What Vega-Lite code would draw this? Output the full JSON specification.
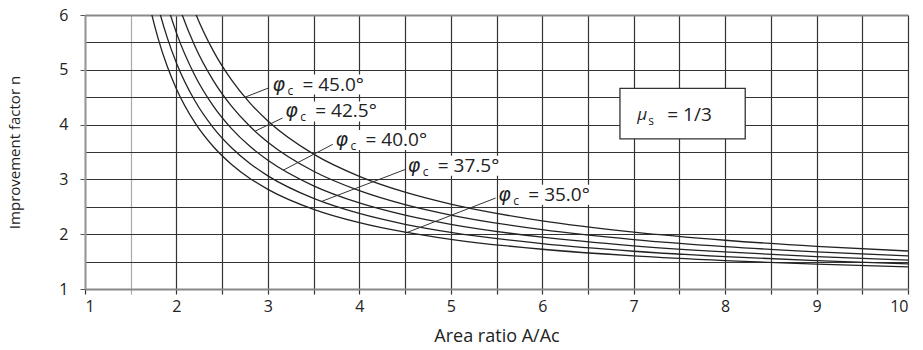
{
  "$schema": "https://vega.github.io/schema/vega-lite/v6.json",
  "width": 823,
  "height": 274,
  "autosize": "none",
  "padding": {"left": 85, "top": 15, "right": 15, "bottom": 61},
  "background": "white",
  "config": {
    "view": {"stroke": null},
    "font": "Open Sans",
    "text": {"font": "Open Sans", "color": "#222"}
  },
  "datasets": {
    "curves": [
      {"phi": "35.0", "x": 1.6, "y": 7.102}, {"phi": "35.0", "x": 1.7, "y": 6.226}, {"phi": "35.0", "x": 1.8, "y": 5.570}, {"phi": "35.0", "x": 1.9, "y": 5.059}, {"phi": "35.0", "x": 2.0, "y": 4.651}, {"phi": "35.0", "x": 2.2, "y": 4.040}, {"phi": "35.0", "x": 2.4, "y": 3.604}, {"phi": "35.0", "x": 2.6, "y": 3.277}, {"phi": "35.0", "x": 2.8, "y": 3.022}, {"phi": "35.0", "x": 3.0, "y": 2.819}, {"phi": "35.0", "x": 3.5, "y": 2.454}, {"phi": "35.0", "x": 4.0, "y": 2.211}, {"phi": "35.0", "x": 4.5, "y": 2.037}, {"phi": "35.0", "x": 5.0, "y": 1.907}, {"phi": "35.0", "x": 6.0, "y": 1.725}, {"phi": "35.0", "x": 7.0, "y": 1.604}, {"phi": "35.0", "x": 8.0, "y": 1.518}, {"phi": "35.0", "x": 9.0, "y": 1.453}, {"phi": "35.0", "x": 10.0, "y": 1.402},
      {"phi": "37.5", "x": 1.6, "y": 7.871}, {"phi": "37.5", "x": 1.7, "y": 6.890}, {"phi": "37.5", "x": 1.8, "y": 6.155}, {"phi": "37.5", "x": 1.9, "y": 5.583}, {"phi": "37.5", "x": 2.0, "y": 5.126}, {"phi": "37.5", "x": 2.2, "y": 4.439}, {"phi": "37.5", "x": 2.4, "y": 3.949}, {"phi": "37.5", "x": 2.6, "y": 3.581}, {"phi": "37.5", "x": 2.8, "y": 3.294}, {"phi": "37.5", "x": 3.0, "y": 3.065}, {"phi": "37.5", "x": 3.5, "y": 2.653}, {"phi": "37.5", "x": 4.0, "y": 2.378}, {"phi": "37.5", "x": 4.5, "y": 2.181}, {"phi": "37.5", "x": 5.0, "y": 2.034}, {"phi": "37.5", "x": 6.0, "y": 1.827}, {"phi": "37.5", "x": 7.0, "y": 1.689}, {"phi": "37.5", "x": 8.0, "y": 1.591}, {"phi": "37.5", "x": 9.0, "y": 1.517}, {"phi": "37.5", "x": 10.0, "y": 1.460},
      {"phi": "40.0", "x": 1.6, "y": 8.759}, {"phi": "40.0", "x": 1.7, "y": 7.658}, {"phi": "40.0", "x": 1.8, "y": 6.832}, {"phi": "40.0", "x": 1.9, "y": 6.189}, {"phi": "40.0", "x": 2.0, "y": 5.674}, {"phi": "40.0", "x": 2.2, "y": 4.901}, {"phi": "40.0", "x": 2.4, "y": 4.347}, {"phi": "40.0", "x": 2.6, "y": 3.932}, {"phi": "40.0", "x": 2.8, "y": 3.608}, {"phi": "40.0", "x": 3.0, "y": 3.349}, {"phi": "40.0", "x": 3.5, "y": 2.882}, {"phi": "40.0", "x": 4.0, "y": 2.570}, {"phi": "40.0", "x": 4.5, "y": 2.347}, {"phi": "40.0", "x": 5.0, "y": 2.180}, {"phi": "40.0", "x": 6.0, "y": 1.945}, {"phi": "40.0", "x": 7.0, "y": 1.788}, {"phi": "40.0", "x": 8.0, "y": 1.676}, {"phi": "40.0", "x": 9.0, "y": 1.591}, {"phi": "40.0", "x": 10.0, "y": 1.526},
      {"phi": "42.5", "x": 1.7, "y": 8.550}, {"phi": "42.5", "x": 1.8, "y": 7.618}, {"phi": "42.5", "x": 1.9, "y": 6.892}, {"phi": "42.5", "x": 2.0, "y": 6.311}, {"phi": "42.5", "x": 2.2, "y": 5.437}, {"phi": "42.5", "x": 2.4, "y": 4.811}, {"phi": "42.5", "x": 2.6, "y": 4.340}, {"phi": "42.5", "x": 2.8, "y": 3.973}, {"phi": "42.5", "x": 3.0, "y": 3.680}, {"phi": "42.5", "x": 3.5, "y": 3.149}, {"phi": "42.5", "x": 4.0, "y": 2.795}, {"phi": "42.5", "x": 4.5, "y": 2.540}, {"phi": "42.5", "x": 5.0, "y": 2.350}, {"phi": "42.5", "x": 6.0, "y": 2.082}, {"phi": "42.5", "x": 7.0, "y": 1.902}, {"phi": "42.5", "x": 8.0, "y": 1.774}, {"phi": "42.5", "x": 9.0, "y": 1.678}, {"phi": "42.5", "x": 10.0, "y": 1.603},
      {"phi": "45.0", "x": 1.8, "y": 8.540}, {"phi": "45.0", "x": 1.9, "y": 7.717}, {"phi": "45.0", "x": 2.0, "y": 7.057}, {"phi": "45.0", "x": 2.2, "y": 6.065}, {"phi": "45.0", "x": 2.4, "y": 5.354}, {"phi": "45.0", "x": 2.6, "y": 4.819}, {"phi": "45.0", "x": 2.8, "y": 4.401}, {"phi": "45.0", "x": 3.0, "y": 4.067}, {"phi": "45.0", "x": 3.5, "y": 3.462}, {"phi": "45.0", "x": 4.0, "y": 3.057}, {"phi": "45.0", "x": 4.5, "y": 2.767}, {"phi": "45.0", "x": 5.0, "y": 2.549}, {"phi": "45.0", "x": 6.0, "y": 2.242}, {"phi": "45.0", "x": 7.0, "y": 2.037}, {"phi": "45.0", "x": 8.0, "y": 1.890}, {"phi": "45.0", "x": 9.0, "y": 1.779}, {"phi": "45.0", "x": 10.0, "y": 1.693}
    ],
    "labels": [
      {"x": 3.05, "xe": 4.22, "y": 4.73, "t": "= 45.0°"},
      {"x": 3.19, "xe": 4.36, "y": 4.24, "t": "= 42.5°"},
      {"x": 3.74, "xe": 4.91, "y": 3.72, "t": "= 40.0°"},
      {"x": 4.53, "xe": 5.70, "y": 3.25, "t": "= 37.5°"},
      {"x": 5.52, "xe": 6.69, "y": 2.72, "t": "= 35.0°"}
    ],
    "leaders": [
      {"x": 2.75, "y": 4.50, "x2": 3.01, "y2": 4.67},
      {"x": 2.86, "y": 3.88, "x2": 3.16, "y2": 4.12},
      {"x": 3.17, "y": 3.17, "x2": 3.71, "y2": 3.64},
      {"x": 3.59, "y": 2.60, "x2": 4.50, "y2": 3.18},
      {"x": 4.52, "y": 2.03, "x2": 5.49, "y2": 2.66}
    ],
    "box": [{"x": 6.85, "x2": 8.22, "y": 4.66, "y2": 3.74}],
    "boxlabel": [{"x": 7.04, "y": 4.18, "t": "= 1/3"}]
  },
  "encoding": {
    "x": {
      "field": "x", "type": "quantitative",
      "scale": {"domain": [1, 10], "nice": false, "zero": false},
      "axis": {
        "values": [1, 1.5, 2, 2.5, 3, 3.5, 4, 4.5, 5, 5.5, 6, 6.5, 7, 7.5, 8, 8.5, 9, 9.5, 10],
        "labelExpr": "datum.value % 1 === 0 ? format(datum.value, 'd') : ''",
        "grid": true,
        "gridColor": {"condition": {"test": "datum.value === 1.5", "value": "#aaaaaa"}, "value": "#333333"},
        "gridWidth": 1.2,
        "tickSize": 5,
        "tickColor": {"condition": {"test": "datum.value === 1.5", "value": "#aaaaaa"}, "value": "#333333"},
        "tickWidth": 1.2,
        "domainColor": "#888888",
        "domainWidth": 2,
        "labelFont": "Open Sans",
        "labelFontSize": 16,
        "labelColor": "#222222",
        "labelPadding": 4,
        "title": "Area ratio A/Ac",
        "titleFont": "Open Sans",
        "titleFontSize": 18,
        "titleFontWeight": "normal",
        "titleColor": "#222222",
        "titlePadding": 13
      }
    },
    "y": {
      "field": "y", "type": "quantitative",
      "scale": {"domain": [1, 6], "nice": false, "zero": false},
      "axis": {
        "values": [1, 1.5, 2, 2.5, 3, 3.5, 4, 4.5, 5, 5.5, 6],
        "labelExpr": "datum.value % 1 === 0 ? format(datum.value, 'd') : ''",
        "grid": true,
        "gridColor": {"condition": {"test": "datum.value === 6", "value": "#888888"}, "value": "#333333"},
        "gridWidth": {"condition": {"test": "datum.value === 6", "value": 2}, "value": 1.2},
        "tickSize": 5,
        "tickColor": "#555555",
        "tickOpacity": {"condition": {"test": "datum.value % 1 === 0", "value": 1}, "value": 0},
        "domainColor": "#999999",
        "domainWidth": 2,
        "labelFont": "Open Sans",
        "labelFontSize": 16,
        "labelColor": "#222222",
        "labelPadding": 12,
        "title": "Improvement factor n",
        "titleFont": "Open Sans",
        "titleFontSize": 15,
        "titleFontWeight": "normal",
        "titleColor": "#222222",
        "titlePadding": 36
      }
    }
  },
  "layer": [
    {
      "data": {"name": "labels"},
      "mark": {"type": "rect", "fill": "white", "height": 20},
      "encoding": {"x2": {"field": "xe"}}
    },
    {
      "data": {"name": "curves"},
      "mark": {"type": "line", "clip": true, "interpolate": "monotone", "color": "#222222", "strokeWidth": 1.3},
      "encoding": {"detail": {"field": "phi"}}
    },
    {
      "data": {"name": "leaders"},
      "mark": {"type": "rule", "color": "#333333", "strokeWidth": 1},
      "encoding": {"x2": {"field": "x2"}, "y2": {"field": "y2"}}
    },
    {
      "data": {"name": "box"},
      "mark": {"type": "rect", "fill": "white", "stroke": "#333333", "strokeWidth": 1.3},
      "encoding": {"x2": {"field": "x2"}, "y2": {"field": "y2"}}
    },
    {
      "data": {"name": "labels"},
      "mark": {"type": "text", "align": "left", "baseline": "middle", "fontSize": 19, "fontStyle": "italic", "font": "DejaVu Sans"},
      "encoding": {"text": {"value": "φ"}}
    },
    {
      "data": {"name": "labels"},
      "mark": {"type": "text", "align": "left", "baseline": "middle", "dx": 15, "dy": 6, "fontSize": 12},
      "encoding": {"text": {"value": "c"}}
    },
    {
      "data": {"name": "labels"},
      "mark": {"type": "text", "align": "left", "baseline": "middle", "dx": 30, "fontSize": 19},
      "encoding": {"text": {"field": "t"}}
    },
    {
      "data": {"name": "boxlabel"},
      "mark": {"type": "text", "align": "left", "baseline": "middle", "fontSize": 17, "fontStyle": "italic"},
      "encoding": {"text": {"value": "μ"}}
    },
    {
      "data": {"name": "boxlabel"},
      "mark": {"type": "text", "align": "left", "baseline": "middle", "dx": 11, "dy": 6, "fontSize": 12},
      "encoding": {"text": {"value": "s"}}
    },
    {
      "data": {"name": "boxlabel"},
      "mark": {"type": "text", "align": "left", "baseline": "middle", "dx": 30, "fontSize": 19},
      "encoding": {"text": {"field": "t"}}
    }
  ]
}
